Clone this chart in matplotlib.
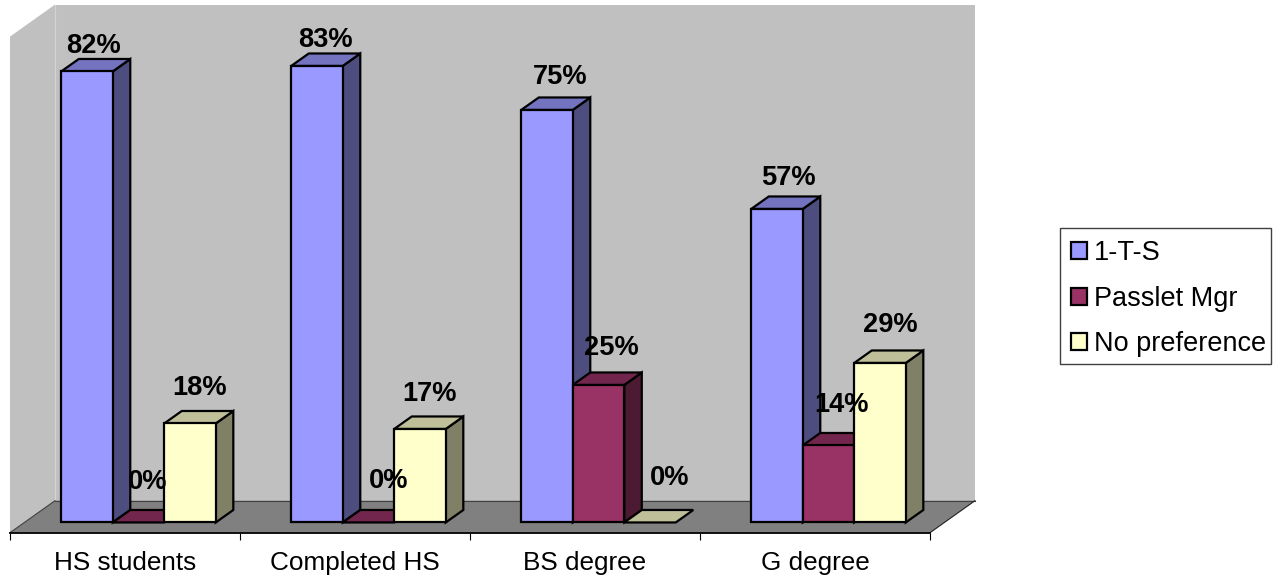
import matplotlib
matplotlib.use("Agg")
import matplotlib.pyplot as plt
from matplotlib.patches import Patch, Polygon, Rectangle

plt.rcParams["font.family"] = ["Liberation Sans", "DejaVu Sans"]

categories = ["HS students", "Completed HS", "BS degree", "G degree"]
series_names = ["1-T-S", "Passlet Mgr", "No preference"]
one_t_s = [82, 83, 75, 57]
passlet_mgr = [0, 0, 25, 14]
no_preference = [18, 17, 0, 29]

# front, top and side shades for each series
front_colors = ["#9999FF", "#993366", "#FFFFCC"]
top_colors = ["#7373BF", "#73264D", "#BFBF99"]
side_colors = ["#4D4D80", "#4D1A33", "#808066"]

# hand placed data labels, pixels away from the middle of the bar's top edge
label_nudge = [
    [(7, 25), (9, 40), (10, 35)],
    [(8, 26), (20, 41), (10, 35)],
    [(13, 33), (13, 37), (20, 44)],
    [(11, 31), (13, 40), (10, 38)],
]

W, H = 1279, 575
PX_X = 230     # pixels per category
PX_Y = 5.5     # pixels per percent
DEPTH_X = 45 / PX_X
DEPTH_Y = 32 / PX_Y
Y_MAX = 90.2

BAR_W = 0.224
GROUP_LEFT = 0.160
BAR_FRONT = 0.32
BAR_BACK = 0.71


def proj(x, v, d):
    # oblique projection: d runs from 0 at the front of the floor to 1 at the wall
    return (x + d * DEPTH_X, v + d * DEPTH_Y)


def face(ax, pts, color, z, edge="black", lw=1.6):
    ax.add_patch(Polygon(pts, closed=True, facecolor=color, edgecolor=edge,
                         linewidth=lw, joinstyle="miter", zorder=z))


def draw_bar(ax, x, v, s, z):
    x2 = x + BAR_W
    if v > 0:
        face(ax, [proj(x2, 0, BAR_FRONT), proj(x2, v, BAR_FRONT),
                  proj(x2, v, BAR_BACK), proj(x2, 0, BAR_BACK)], side_colors[s], z)
    face(ax, [proj(x, v, BAR_FRONT), proj(x2, v, BAR_FRONT),
              proj(x2, v, BAR_BACK), proj(x, v, BAR_BACK)], top_colors[s], z)
    if v > 0:
        face(ax, [proj(x, 0, BAR_FRONT), proj(x2, 0, BAR_FRONT),
                  proj(x2, v, BAR_FRONT), proj(x, v, BAR_FRONT)], front_colors[s], z)


fig = plt.figure(figsize=(W / 100, H / 100), dpi=100)
ax = fig.add_axes([0, 0, 1, 1])
ax.set_xlim(-10 / PX_X, (W - 10) / PX_X)
ax.set_ylim(-(H - 532.7) / PX_Y, 532.7 / PX_Y)
ax.patch.set_visible(False)

n = len(categories)

# walls and floor
face(ax, [proj(0, 0, 0), proj(0, Y_MAX, 0), proj(0, Y_MAX, 1), proj(0, 0, 1)],
     "#C0C0C0", 1, edge="none", lw=0)
face(ax, [proj(0, 0, 1), proj(0, Y_MAX, 1), proj(n, Y_MAX, 1), proj(n, 0, 1)],
     "#C0C0C0", 1, edge="none", lw=0)
face(ax, [proj(0, 0, 0), proj(n, 0, 0), proj(n, 0, 1), proj(0, 0, 1)],
     "#808080", 2, edge="none", lw=0)
ax.plot(*zip(proj(0, 0, 1), proj(0, Y_MAX, 1)), color="#D4D4D4", lw=0.8, zorder=2)
ax.plot(*zip(proj(0, 0, 1), proj(n, 0, 1)), color="#404040", lw=0.8, zorder=3)
ax.plot(*zip(proj(0, 0, 0), proj(0, 0, 1)), color="#404040", lw=0.8, zorder=3)
ax.plot(*zip(proj(n, 0, 0), proj(n, 0, 1)), color="#202020", lw=0.8, zorder=3)

# bars, left to right so later ones sit over earlier ones
values = [one_t_s, passlet_mgr, no_preference]
z = 4
for i in range(n):
    for s, vals in enumerate(values):
        x = i + GROUP_LEFT + s * BAR_W
        draw_bar(ax, x, vals[i], s, z)
        z += 1

for i in range(n):
    for s, vals in enumerate(values):
        x = i + GROUP_LEFT + s * BAR_W
        dx, dy = label_nudge[i][s]
        ax.annotate(f"{vals[i]}%", proj(x + BAR_W / 2, vals[i], BAR_FRONT),
                    xytext=(dx, dy), textcoords="offset pixels", ha="center",
                    va="center", fontsize=19.6, fontweight="bold", color="black",
                    zorder=100)

# category axis
for name in ["top", "left", "right"]:
    ax.spines[name].set_visible(False)
ax.spines["bottom"].set_position(("data", 0))
ax.spines["bottom"].set_bounds(0, n)
ax.spines["bottom"].set_linewidth(1.3)
ax.spines["bottom"].set_zorder(3)
ax.set_yticks([])
ax.set_xticks(range(n + 1))
ax.set_xticklabels([])
ax.set_xticks([i + 0.5 for i in range(n)], categories, minor=True)
ax.tick_params(axis="x", which="major", length=5, width=0.8, direction="out")
ax.tick_params(axis="x", which="minor", length=0, pad=13, labelsize=18.8)

# legend box is drawn apart so its size does not follow the text padding
ax.add_patch(Rectangle((1060 / W, 1 - 364 / H), 211 / W, 136 / H,
                       transform=fig.transFigure, facecolor="white",
                       edgecolor="#404040", linewidth=1.0, zorder=100))
handles = [Patch(facecolor=c, edgecolor="black", linewidth=1.6) for c in front_colors]
leg = ax.legend(handles, series_names, loc="upper left",
                bbox_to_anchor=(1059.5 / W, 1 - 229 / H), bbox_transform=fig.transFigure,
                fontsize=19.5, frameon=False, borderaxespad=0, borderpad=0.42,
                handlelength=0.58, handleheight=0.58, handletextpad=0.28,
                labelspacing=0.72)
leg.set_zorder(101)

fig.savefig("out.png", dpi=100)
